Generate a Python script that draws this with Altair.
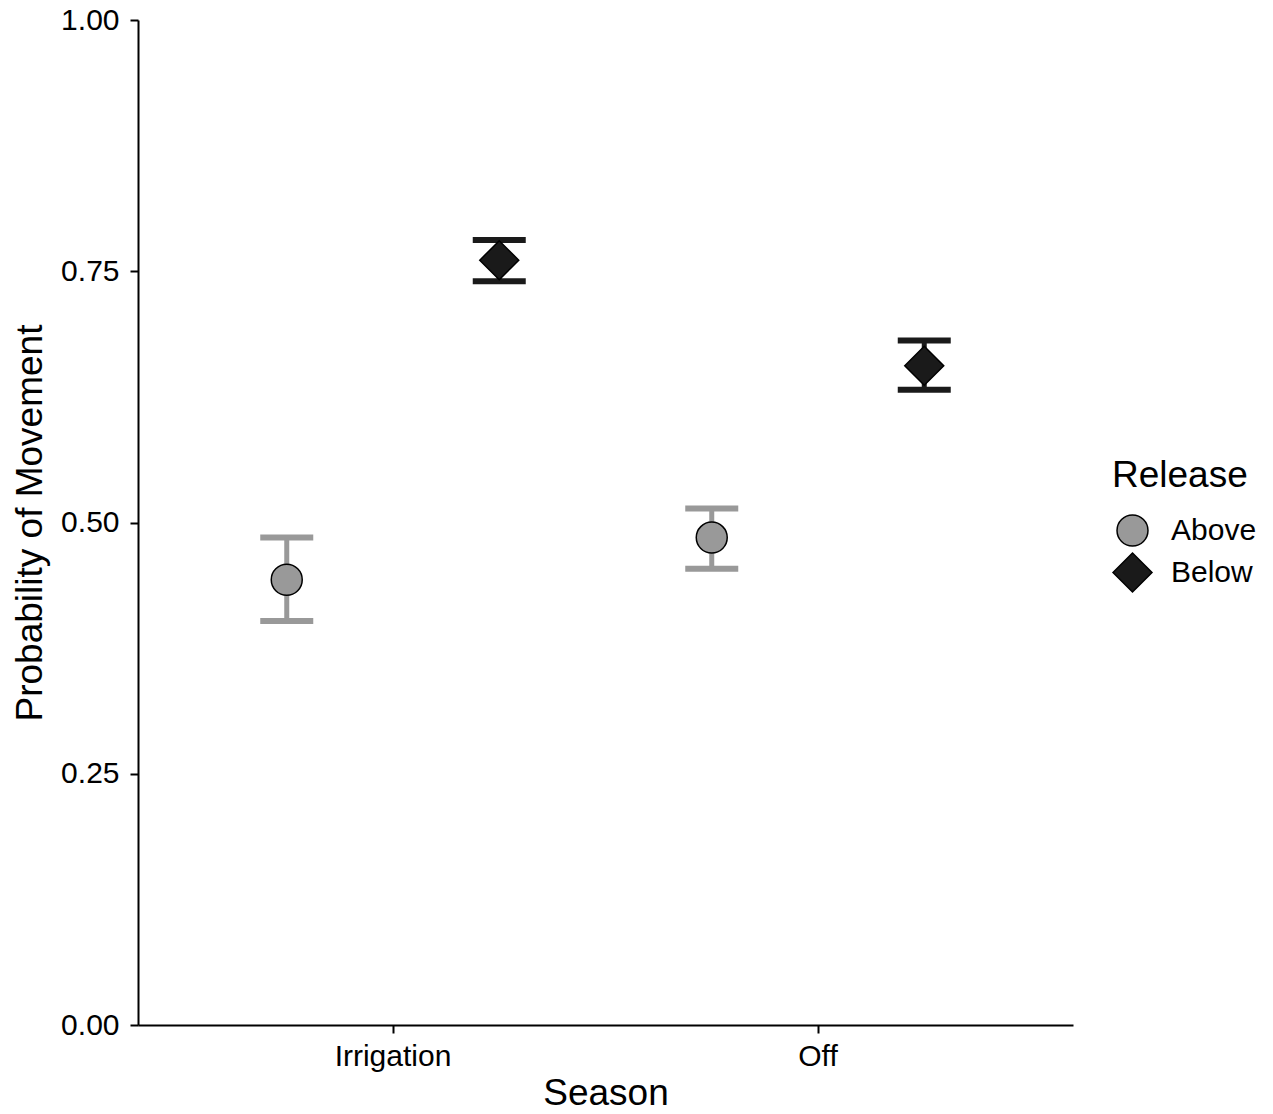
import altair as alt
import pandas as pd

seasons = ["Irrigation", "Irrigation", "Off", "Off"]
release = ["Above", "Below", "Above", "Below"]
prob = [0.443, 0.761, 0.485, 0.656]
lower = [0.402, 0.740, 0.454, 0.632]
upper = [0.485, 0.781, 0.514, 0.681]

release_levels = ["Above", "Below"]
fill_colors = ["#999999", "#1a1a1a"]
shapes = ["circle", "diamond"]
sizes = [960, 1520]

df = pd.DataFrame({"Season": seasons, "Release": release, "prob": prob,
                   "lower": lower, "upper": upper})

FONT = "Liberation Sans"

x_enc = alt.X("Season:N", title="Season",
              scale=alt.Scale(paddingInner=0, paddingOuter=0.1),
              axis=alt.Axis(labelAngle=0, labelFontSize=30, titleFontSize=37,
                            labelPadding=8, titlePadding=4, tickSize=8,
                            tickWidth=2, domainWidth=2, domainColor="black",
                            tickColor="black", labelColor="black",
                            titleColor="black", titleFontWeight="normal",
                            labelFont=FONT, titleFont=FONT))
xoff = alt.XOffset("Release:N", scale=alt.Scale(domain=release_levels,
                                                 paddingInner=0, paddingOuter=0))
y_scale = alt.Scale(domain=[0, 1], nice=False, zero=False)
y_axis = alt.Axis(values=[0, 0.25, 0.5, 0.75, 1.0], format=".2f",
                  labelFontSize=30, titleFontSize=37, labelPadding=11,
                  titlePadding=11, tickSize=8, tickWidth=2, domainWidth=2,
                  domainColor="black", tickColor="black", labelColor="black",
                  titleColor="black", titleFontWeight="normal", grid=False,
                  labelFont=FONT, titleFont=FONT)

base = alt.Chart(df)

bar_layers = []
for lvl, col in zip(release_levels, fill_colors):
    sub = base.transform_filter(alt.datum.Release == lvl)
    bar_layers.append(sub.mark_rule(strokeWidth=5, opacity=1, color=col).encode(
        x=x_enc, xOffset=xoff,
        y=alt.Y("lower:Q", scale=y_scale, axis=y_axis, title="Probability of Movement"),
        y2="upper:Q",
    ))
    for fld in ["lower", "upper"]:
        bar_layers.append(sub.mark_tick(orient="horizontal", size=53, thickness=6,
                                        opacity=1, color=col).encode(
            x=x_enc, xOffset=xoff,
            y=alt.Y(f"{fld}:Q", scale=y_scale),
        ))

legend = alt.Legend(title="Release", orient="none", legendX=974, legendY=438,
                    titleFontSize=37, labelFontSize=30, titleFont=FONT,
                    labelFont=FONT, titleFontWeight="normal", titleColor="black",
                    labelColor="black", titlePadding=19, rowPadding=1,
                    symbolStrokeColor="black", symbolStrokeWidth=1.5,
                    labelOffset=18)

points = base.mark_point(filled=True, stroke="black", strokeWidth=1.5, opacity=1).encode(
    x=x_enc, xOffset=xoff,
    y=alt.Y("prob:Q", scale=y_scale),
    color=alt.Color("Release:N", scale=alt.Scale(domain=release_levels, range=fill_colors), legend=legend),
    shape=alt.Shape("Release:N", scale=alt.Scale(domain=release_levels, range=shapes), legend=legend),
    size=alt.Size("Release:N", scale=alt.Scale(domain=release_levels, range=sizes), legend=legend),
)

chart = alt.layer(*bar_layers, points).properties(
    width=935, height=1005,
    autosize=alt.AutoSizeParams(type="none"),
    padding={"left": 138, "top": 20, "right": 200, "bottom": 89},
    background="white",
).configure(font=FONT).configure_view(stroke=None)

chart.save("out.html", embed_options={"renderer": "svg", "actions": False})
